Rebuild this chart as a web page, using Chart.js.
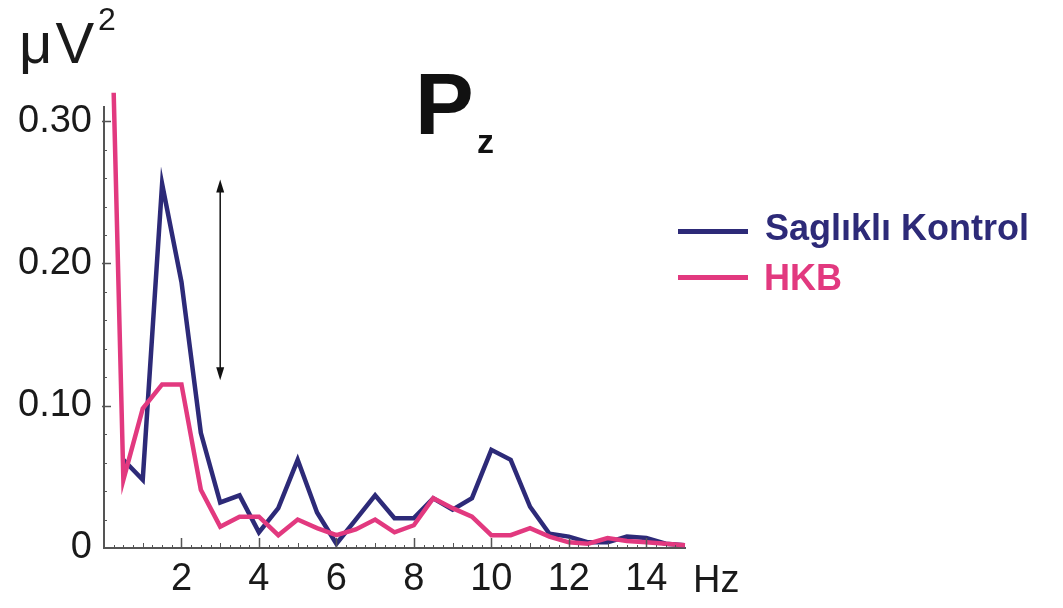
<!DOCTYPE html>
<html>
<head>
<meta charset="utf-8">
<script src="https://cdn.jsdelivr.net/npm/chart.js@4.4.1/dist/chart.umd.min.js"></script>
<style>
  body { margin: 0; background: #fff; }
  #wrap { position: relative; width: 1063px; height: 608px; font-family: "Liberation Sans", Arial, sans-serif; }
  #wrap canvas { position: absolute; left: 0; top: 0; }
  .txt { position: absolute; line-height: 1; white-space: nowrap; color: #1a1a1a; }
  .swatch { position: absolute; height: 5px; width: 70px; }
</style>
</head>
<body>
<div id="wrap">
  <canvas id="grafico"></canvas>
  <div class="txt" style="left:19px; top:14px; font-size:58px; letter-spacing:3px;">μV</div>
  <div class="txt" style="left:98px; top:3px; font-size:32px;">2</div>
  <div class="txt" style="left:415px; top:60px; font-size:88px; font-weight:bold; color:#111;">P</div>
  <div class="txt" style="left:477px; top:124px; font-size:34px; font-weight:bold; color:#111;">z</div>
  <div class="swatch" style="left:678px; top:229px; background:#2d2a78;"></div>
  <div class="txt" style="left:765px; top:210px; font-size:36px; font-weight:bold; color:#2d2a78;">Saglıklı Kontrol</div>
  <div class="swatch" style="left:678px; top:275px; background:#e2397f;"></div>
  <div class="txt" style="left:764px; top:260px; font-size:36px; font-weight:bold; color:#e2397f;">HKB</div>
  <div class="txt" style="left:693px; top:560px; font-size:38px;">Hz</div>
</div>
<script>
// frequenze (Hz) e valori (µV²)
const freqKontrol = [0.5, 1.0, 1.5, 2.0, 2.5, 3.0, 3.5, 4.0, 4.5, 5.0, 5.5, 6.0, 6.5, 7.0, 7.5,
                     8.0, 8.5, 9.0, 9.5, 10.0, 10.5, 11.0, 11.5, 12.0, 12.5, 13.0, 13.5, 14.0, 14.5, 15.0];
const valKontrol = [0.062, 0.048, 0.256, 0.187, 0.081, 0.032, 0.037, 0.011, 0.028, 0.062, 0.025, 0.003, 0.020, 0.037, 0.021,
                    0.021, 0.035, 0.027, 0.035, 0.069, 0.062, 0.029, 0.010, 0.008, 0.004, 0.004, 0.008, 0.007, 0.003, 0.002];

const freqHKB = [0.25, 0.5, 1.0, 1.5, 2.0, 2.5, 3.0, 3.5, 4.0, 4.5, 5.0, 5.5, 6.0, 6.5, 7.0, 7.5,
                 8.0, 8.5, 9.0, 9.5, 10.0, 10.5, 11.0, 11.5, 12.0, 12.5, 13.0, 13.5, 14.0, 14.5, 15.0];
const valHKB = [0.320, 0.048, 0.098, 0.115, 0.115, 0.041, 0.015, 0.022, 0.022, 0.009, 0.020, 0.014, 0.009, 0.013, 0.020, 0.011,
                0.016, 0.035, 0.028, 0.022, 0.009, 0.009, 0.014, 0.008, 0.004, 0.003, 0.007, 0.005, 0.004, 0.003, 0.002];

const xTickValues = [2, 4, 6, 8, 10, 12, 14];
const xTickLabels = ['2', '4', '6', '8', '10', '12', '14'];
const yTickValues = [0, 0.1, 0.2, 0.3];
const yTickLabels = ['0', '0.10', '0.20', '0.30'];

// freccia doppia (differenza al picco)
const arrowHz = 3.0;
const arrowFrom = 0.118;
const arrowTo = 0.259;

const BLU = '#2d2a78';
const ROSA = '#e2397f';

function toPoints(xs, ys) {
  return xs.map((hz, i) => ({ x: hz, y: ys[i] }));
}

// tacche interne e freccia
const axisDecor = {
  id: 'axisDecor',
  afterDraw(chart) {
    const ctx = chart.ctx;
    const a = chart.chartArea;
    const x = chart.scales.x;
    const y = chart.scales.y;
    ctx.save();
    ctx.strokeStyle = '#555';
    ctx.lineWidth = 1;
    ctx.beginPath();
    for (let hz = 0.25; hz < 15; hz += 0.25) {
      const px = Math.round(x.getPixelForValue(hz)) + 0.5;
      const len = Number.isInteger(hz) ? 5 : 3;
      ctx.moveTo(px, a.bottom);
      ctx.lineTo(px, a.bottom - len);
    }
    for (let v = 0.02; v < 0.31; v += 0.02) {
      const py = Math.round(y.getPixelForValue(v)) + 0.5;
      ctx.moveTo(a.left, py);
      ctx.lineTo(a.left + 3, py);
    }
    ctx.stroke();
    ctx.lineWidth = 1.5;
    ctx.beginPath();
    xTickValues.forEach(v => {
      const px = Math.round(x.getPixelForValue(v)) + 0.5;
      ctx.moveTo(px, a.bottom);
      ctx.lineTo(px, a.bottom - 10);
    });
    yTickValues.forEach(v => {
      if (v === 0) return;
      const py = Math.round(y.getPixelForValue(v)) + 0.5;
      ctx.moveTo(a.left - 2, py);
      ctx.lineTo(a.left + 7, py);
    });
    ctx.stroke();

    // freccia
    const ax = x.getPixelForValue(arrowHz);
    const y1 = y.getPixelForValue(arrowTo);
    const y2 = y.getPixelForValue(arrowFrom);
    ctx.strokeStyle = '#111';
    ctx.fillStyle = '#111';
    ctx.lineWidth = 1.5;
    ctx.beginPath();
    ctx.moveTo(ax, y1 + 8);
    ctx.lineTo(ax, y2 - 8);
    ctx.stroke();
    ctx.beginPath();
    ctx.moveTo(ax, y1);
    ctx.lineTo(ax - 4, y1 + 13);
    ctx.lineTo(ax + 4, y1 + 13);
    ctx.closePath();
    ctx.fill();
    ctx.beginPath();
    ctx.moveTo(ax, y2);
    ctx.lineTo(ax - 4, y2 - 13);
    ctx.lineTo(ax + 4, y2 - 13);
    ctx.closePath();
    ctx.fill();
    ctx.restore();
  }
};

document.addEventListener('DOMContentLoaded', function() {
  const canvas = document.getElementById('grafico');
  canvas.width = 1063;
  canvas.height = 608;

  const tickFont = { family: '"Liberation Sans", Arial, sans-serif', size: 38 };

  new Chart(canvas.getContext('2d'), {
    type: 'line',
    data: {
      datasets: [{
        label: 'HKB',
        data: toPoints(freqHKB, valHKB),
        borderColor: ROSA,
        borderWidth: 4.5,
        pointRadius: 0,
        tension: 0,
        clip: false
      }, {
        label: 'Saglıklı Kontrol',
        data: toPoints(freqKontrol, valKontrol),
        borderColor: BLU,
        borderWidth: 4.5,
        pointRadius: 0,
        tension: 0
      }]
    },
    plugins: [axisDecor],
    options: {
      responsive: false,
      animation: false,
      devicePixelRatio: 1,
      layout: { padding: { top: 107, right: 378, left: 0, bottom: 0 } },
      plugins: {
        legend: { display: false },
        tooltip: { enabled: false }
      },
      scales: {
        x: {
          type: 'linear',
          min: 0,
          max: 15,
          afterFit: function(scale) { scale.height = 60; },
          afterBuildTicks: function(scale) {
            scale.ticks = xTickValues.map(v => ({ value: v }));
          },
          grid: { display: true, drawOnChartArea: false, drawTicks: false },
          border: { display: true, color: '#555', width: 2 },
          ticks: {
            font: tickFont,
            color: '#1a1a1a',
            padding: 9,
            maxRotation: 0,
            autoSkip: false,
            callback: function(value) {
              const i = xTickValues.indexOf(value);
              return i >= 0 ? xTickLabels[i] : '';
            }
          }
        },
        y: {
          type: 'linear',
          min: 0,
          max: 0.31,
          afterFit: function(scale) { scale.width = 104; },
          afterBuildTicks: function(scale) {
            scale.ticks = yTickValues.map(v => ({ value: v }));
          },
          grid: { display: true, drawOnChartArea: false, drawTicks: false },
          border: { display: true, color: '#555', width: 2 },
          ticks: {
            font: tickFont,
            color: '#1a1a1a',
            padding: 12,
            autoSkip: false,
            callback: function(value) {
              const i = yTickValues.findIndex(v => Math.abs(v - value) < 1e-9);
              return i >= 0 ? yTickLabels[i] : '';
            }
          }
        }
      }
    }
  });
});
</script>
</body>
</html>
